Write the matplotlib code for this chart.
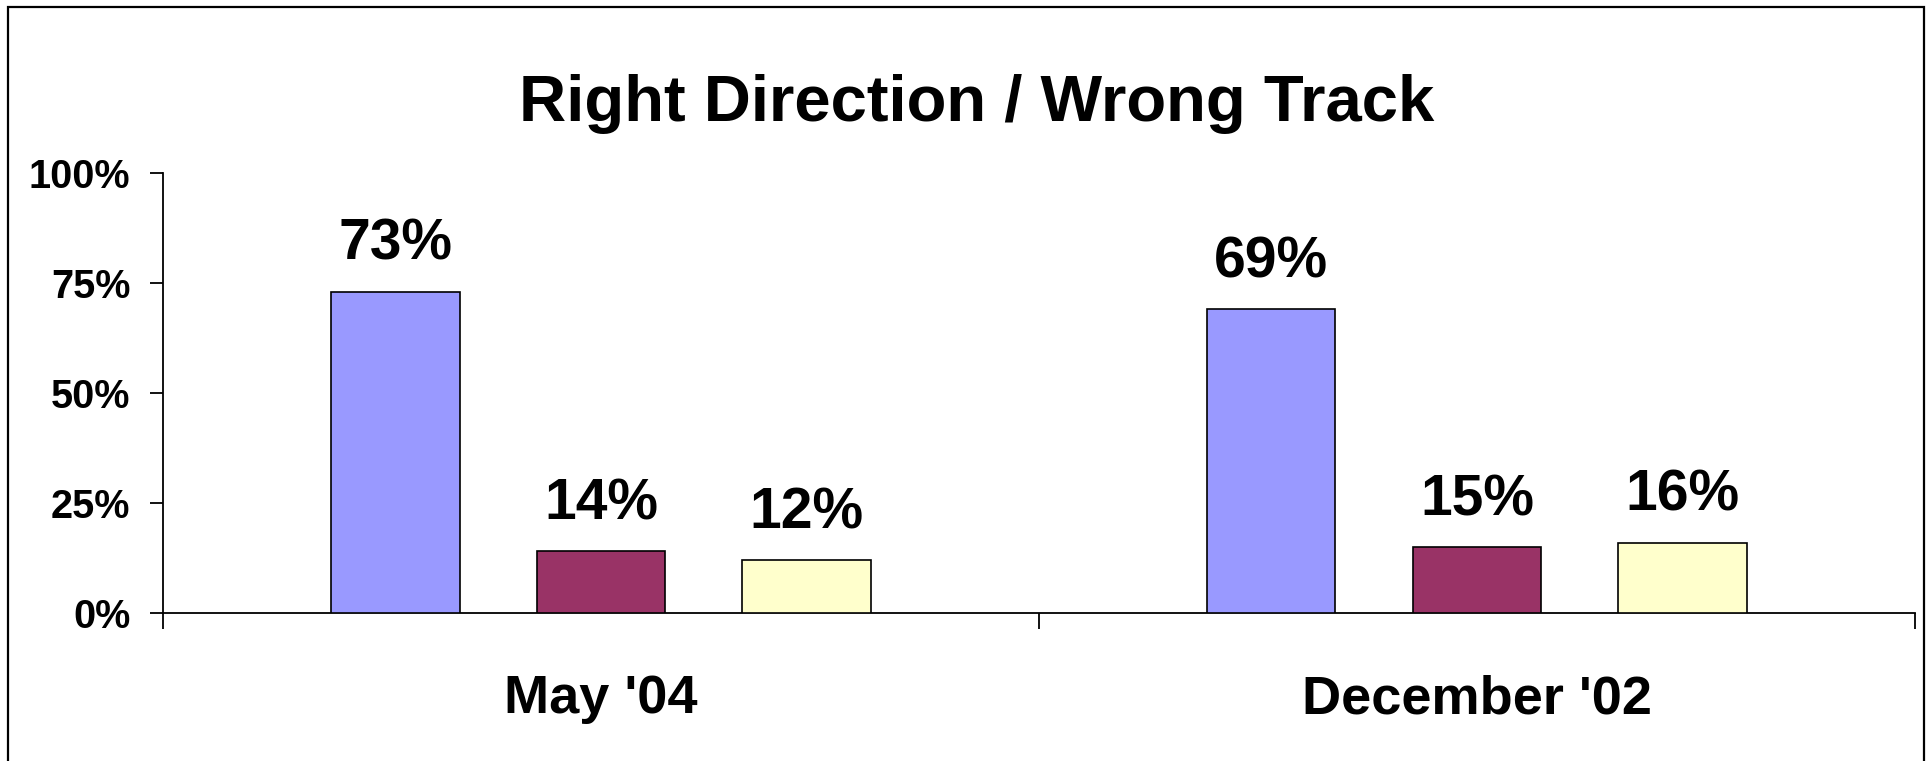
import matplotlib
matplotlib.use('Agg')
import matplotlib.pyplot as plt
from matplotlib.patches import Rectangle
import numpy as np

plt.rcParams['font.family'] = ['Liberation Sans', 'DejaVu Sans']
plt.rcParams['font.weight'] = 'bold'

title = 'Right Direction / Wrong Track'
periods = ["May '04", "December '02"]
right_direction = [73, 69]
wrong_track = [14, 15]
dont_know = [12, 16]
colors = ['#9999FF', '#993366', '#FFFFCC']
y_ticks = [0, 25, 50, 75, 100]

fig = plt.figure(figsize=(19.29, 7.61), dpi=100)
ax = fig.add_axes([0.0845, 0.1945, 0.9082, 0.5782])

# outer frame of the chart area
fig.patches.append(Rectangle((8 / 1929, -0.05), 1916 / 1929, 1.05 - 7 / 761,
                             transform=fig.transFigure, fill=False,
                             edgecolor='black', linewidth=1.6))

x = np.arange(len(periods))
width = 0.147
offset = 0.235
series = [right_direction, wrong_track, dont_know]
for i, vals in enumerate(series):
    bars = ax.bar(x + (i - 1) * offset, vals, width, color=colors[i],
                  edgecolor='black', linewidth=1.2, zorder=3)
    for b, v in zip(bars, vals):
        ax.annotate(f'{v}%', (b.get_x() + b.get_width() / 2, v),
                    xytext=(0, 23), textcoords='offset points',
                    ha='center', va='baseline', fontsize=41, fontweight='bold')

ax.set_xlim(-0.5, 1.5)
ax.set_ylim(0, 100)
ax.set_yticks(y_ticks)
ax.set_yticklabels([f'{t}%' for t in y_ticks], fontsize=28.5, fontweight='bold')
ax.tick_params(axis='y', direction='out', length=9.5, width=1.3, pad=14)

ax.set_xticks(x)
ax.set_xticklabels(periods, fontsize=39, fontweight='bold')
ax.tick_params(axis='x', which='major', length=0, pad=44)
ax.set_xticks([-0.5, 0.5, 1.5], minor=True)
ax.tick_params(axis='x', which='minor', direction='out', length=11.5, width=1.3)

for side in ['top', 'right']:
    ax.spines[side].set_visible(False)
for side in ['left', 'bottom']:
    ax.spines[side].set_linewidth(1.3)

fig.text(977 / 1929, 0.841, title, ha='center', va='baseline',
         fontsize=47, fontweight='bold')

fig.savefig('out.png', dpi=100)
